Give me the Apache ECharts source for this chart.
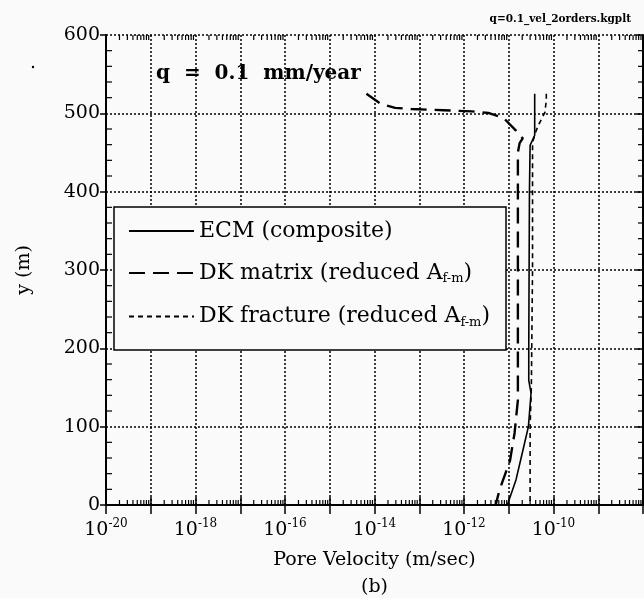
<!DOCTYPE html>
<html>
<head>
<meta charset="utf-8">
<title>Pore velocity</title>
<script src="https://cdn.jsdelivr.net/npm/echarts@6/dist/echarts.min.js"></script>
<style>
  html, body { margin: 0; padding: 0; background: #fafafa; }
  #main { width: 644px; height: 598px; }
</style>
</head>
<body>
<div id="main"></div>
<script type="text/javascript">
// values (velocity in m/sec, y in m)
var ecmVel = [3.8e-11, 3.8e-11, 3.0e-11, 2.9e-11, 2.85e-11, 2.8e-11, 2.8e-11, 3.15e-11, 2.75e-11, 2.0e-11, 1.45e-11, 9.3e-12];
var ecmY   = [525, 472, 459, 400, 300, 200, 159, 143, 100, 66, 32, 0];

var matrixVel = [6.6e-15, 1.4e-14, 2.9e-14, 6.6e-14, 3.5e-13, 1.5e-12, 3.5e-12, 7.7e-12, 1.45e-11, 2.05e-11, 1.75e-11, 1.6e-11, 1.6e-11, 1.35e-11, 1.07e-11, 6.2e-12, 5.1e-12];
var matrixY   = [525, 512, 507, 505.5, 504, 502.5, 500.5, 494, 478, 468, 462, 450, 134, 92, 57, 19, 0];

var fracVel = [6.9e-11, 6.9e-11, 6.4e-11, 4.8e-11, 4.1e-11, 3.4e-11, 3.4e-11, 3.2e-11, 3.0e-11, 3.0e-11];
var fracY   = [525, 516, 501, 487, 478, 463, 300, 150, 100, 0];

var seriesNames = ['ECM (composite)', 'DK matrix (reduced A_f-m)', 'DK fracture (reduced A_f-m)'];

// axis ticks
var xMin = 1e-20, xMax = 1e-8;
var xLabelExps = [-20, -18, -16, -14, -12, -10];

var xMinor = [];
for (var e = -20; e < -8; e++) {
    for (var k = 2; k <= 9; k++) xMinor.push(k * Math.pow(10, e));
}
var yMinor = [];
for (var v = 20; v < 600; v += 20) {
    if (v % 100 != 0) yMinor.push(v);
}

function zip(a, b) {
    var out = [];
    for (var i = 0; i < a.length; i++) out.push([a[i], b[i]]);
    return out;
}

var serif = 'DejaVu Serif';

var myChart = echarts.init(document.getElementById('main'));

var option = {
    backgroundColor: '#fafafa',
    animation: false,
    title: [{
        text: 'q=0.1_vel_2orders.kgplt',
        right: 8, top: 9,
        textStyle: { fontFamily: serif, fontSize: 10.5, fontWeight: 'bold', color: '#000' }
    }, {
        text: 'q  =  0.1  mm/year',
        left: 151, top: 59,
        textStyle: { fontFamily: serif, fontSize: 20, fontWeight: 'bold', color: '#000' }
    }],
    grid: { left: 106, right: 1, top: 35, bottom: 93, outerBoundsMode: 'none' },
    legend: {
        data: seriesNames,
        orient: 'vertical',
        left: 128, top: 220,
        padding: 0,
        itemWidth: 65, itemHeight: 14,
        itemGap: 18.5,
        itemStyle: { opacity: 0 },
        formatter: function (name) {
            if (name.indexOf('A_f-m') >= 0) {
                return '{b|' + name.replace(' A_f-m)', ' A') + '}{sub|f-m}{b|)}';
            }
            return '{b|' + name + '}';
        },
        textStyle: {
            color: '#000',
            fontFamily: serif,
            fontSize: 22,
            rich: {
                b: { fontFamily: serif, fontSize: 22, lineHeight: 26, color: '#000' },
                sub: { fontFamily: serif, fontSize: 13, lineHeight: 13, padding: [12, 0, 0, 0], color: '#000' }
            }
        }
    },
    graphic: [{
        type: 'rect',
        z: 3,
        shape: { x: 114, y: 207, width: 392, height: 143 },
        style: { fill: '#fafafa', stroke: '#000', lineWidth: 1.5 }
    }, {
        type: 'circle',
        shape: { cx: 33, cy: 67, r: 1.2 },
        style: { fill: '#000' }
    }],
    xAxis: [{
        type: 'log',
        logBase: 10,
        min: xMin, max: xMax,
        interval: 1,
        splitNumber: 12,
        name: 'Pore Velocity (m/sec)\n(b)',
        nameLocation: 'middle',
        nameGap: 38,
        nameTextStyle: { fontFamily: serif, fontSize: 19, color: '#000', lineHeight: 27 },
        axisLine: { lineStyle: { color: '#000', width: 2 } },
        axisTick: { inside: true, length: 8, lineStyle: { color: '#000', width: 1.5 } },
        axisLabel: {
            margin: 14,
            formatter: function (val) {
                var ex = Math.round(Math.log10(val));
                if (xLabelExps.indexOf(ex) < 0) return '';
                return '{b|10}{s|' + ex + '}';
            },
            rich: {
                b: { fontFamily: serif, fontSize: 19, lineHeight: 22, color: '#000' },
                s: { fontFamily: serif, fontSize: 12, lineHeight: 12, padding: [0, 0, 12, 0], color: '#000' }
            }
        },
        splitLine: { show: true, lineStyle: { color: '#000', width: 1.5, type: [2, 2] } }
    }, {
        type: 'log',
        logBase: 10,
        position: 'top',
        min: xMin, max: xMax,
        interval: 1,
        splitNumber: 12,
        axisLine: { lineStyle: { color: '#000', width: 2 } },
        axisTick: { inside: true, length: 9, lineStyle: { color: '#000', width: 1.5 } },
        axisLabel: { show: false },
        splitLine: { show: false }
    }],
    yAxis: [{
        type: 'value',
        min: 0, max: 600, interval: 100,
        name: 'y (m)',
        nameLocation: 'middle',
        nameGap: 72,
        nameTextStyle: { fontFamily: serif, fontSize: 19, color: '#000' },
        axisLine: { show: true, lineStyle: { color: '#000', width: 2 } },
        axisTick: { inside: false, length: 6, lineStyle: { color: '#000', width: 1.5 } },
        axisLabel: {
            margin: 6,
            fontFamily: serif, fontSize: 19, color: '#000'
        },
        splitLine: { show: true, lineStyle: { color: '#000', width: 1.5, type: [2, 2] } }
    }, {
        type: 'value',
        position: 'right',
        min: 0, max: 600, interval: 100,
        axisLine: { show: true, lineStyle: { color: '#000', width: 2 } },
        axisTick: { inside: true, length: 7, lineStyle: { color: '#000', width: 1.5 } },
        axisLabel: { show: false },
        splitLine: { show: false }
    }],
    series: [{
        name: seriesNames[0],
        type: 'line',
        symbol: 'none',
        data: zip(ecmVel, ecmY),
        lineStyle: { color: '#000', width: 1.6, type: 'solid' },
        itemStyle: { color: '#000' }
    }, {
        name: seriesNames[1],
        type: 'line',
        symbol: 'none',
        data: zip(matrixVel, matrixY),
        lineStyle: { color: '#000', width: 2.4, type: [16, 8] },
        itemStyle: { color: '#000' }
    }, {
        name: seriesNames[2],
        type: 'line',
        symbol: 'none',
        data: zip(fracVel, fracY),
        lineStyle: { color: '#000', width: 1.6, type: [5, 4] },
        itemStyle: { color: '#000' }
    }, {
        // minor ticks on all four sides
        type: 'custom',
        silent: true,
        data: [[1e-15, 300]],
        renderItem: function (params, api) {
            var kids = [];
            var bottom = api.coord([xMin, 0])[1];
            var top = api.coord([xMin, 600])[1];
            var left = api.coord([xMin, 0])[0];
            var right = api.coord([xMax, 0])[0];
            var st = { stroke: '#000', lineWidth: 1.2 };
            xMinor.forEach(function (val) {
                var x = api.coord([val, 0])[0];
                kids.push({ type: 'line', shape: { x1: x, y1: bottom, x2: x, y2: bottom - 5 }, style: st });
                kids.push({ type: 'line', shape: { x1: x, y1: top, x2: x, y2: top + 5 }, style: st });
            });
            yMinor.forEach(function (val) {
                var y = api.coord([xMin, val])[1];
                kids.push({ type: 'line', shape: { x1: left, y1: y, x2: left + 6, y2: y }, style: st });
                kids.push({ type: 'line', shape: { x1: right, y1: y, x2: right - 5, y2: y }, style: st });
            });
            return { type: 'group', children: kids };
        }
    }]
};

myChart.setOption(option);
</script>
</body>
</html>
